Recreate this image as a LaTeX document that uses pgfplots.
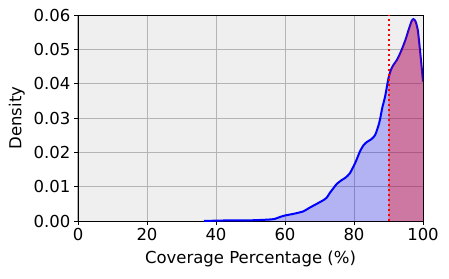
\documentclass[border=0pt]{standalone}
\usepackage{fontspec}
\setmainfont{DejaVu Sans}
\usepackage{pgfplots}
\usepackage{pgfplotstable}
\pgfplotsset{compat=1.18}
\definecolor{bgc}{RGB}{239,239,239}
\definecolor{gridc}{RGB}{180,180,180}
\pgfplotstableread{
x y
36.5 0
40 0.0001
45 0.0002
50 0.0002
55 0.0004
57 0.0006
58.6 0.0012
60 0.0016
61.5 0.0019
63 0.0022
65.3 0.0028
67 0.0038
69.2 0.005
71 0.006
72.1 0.0068
73 0.0082
74 0.0095
75 0.0108
76.4 0.0119
77.5 0.0126
78.8 0.0139
80.3 0.0168
81.7 0.0202
82.7 0.0220
83.7 0.0230
85 0.0238
86.1 0.0250
87 0.0275
87.5 0.0294
88.2 0.0330
89.0 0.0362
90 0.0416
90.7 0.0440
91.4 0.0454
92.5 0.0470
93.8 0.0498
95 0.0530
96 0.0562
96.7 0.0582
97.2 0.0588
97.8 0.0582
98.5 0.0555
99.3 0.0480
100 0.0406
}\kde
\pgfplotstableread{
x y
90 0.0416
90.7 0.0440
91.4 0.0454
92.5 0.0470
93.8 0.0498
95 0.0530
96 0.0562
96.7 0.0582
97.2 0.0588
97.8 0.0582
98.5 0.0555
99.3 0.0480
100 0.0406
}\kdehigh
\begin{document}
\begin{tikzpicture}
\useasboundingbox (-78pt,-57pt) rectangle (371pt,221pt);
\begin{axis}[
  at={(0,0)}, anchor=south west,
  scale only axis,
  width=345pt, height=206pt,
  xmin=0, xmax=100, ymin=0, ymax=0.06,
  xtick={0,20,...,100},
  ytick={0,0.01,...,0.06},
  yticklabel style={/pgf/number format/.cd, fixed, fixed zerofill, precision=2},
  scaled y ticks=false,
  /pgf/number format/assume math mode=true,
  tick label style={font=\fontsize{16.5}{19}\selectfont},
  label style={font=\fontsize{16.5}{19}\selectfont},
  xlabel={Coverage Percentage (\%)},
  ylabel={Density},
  xlabel style={yshift=-3pt},
  ylabel style={yshift=2pt},
  tick align=outside,
  tick pos=left,
  major tick length=4pt,
  tick style={black, line width=0.8pt},
  grid=major,
  major grid style={gridc, line width=1pt},
  axis background/.style={fill=bgc},
  axis line style={black, line width=0.8pt},
]
\addplot[draw=none, fill=blue, fill opacity=0.25, smooth, tension=0.4] table[x=x,y=y]{\kde} \closedcycle;
\addplot[blue, line width=2pt, smooth, tension=0.4] table[x=x,y=y]{\kde};
\addplot[draw=none, fill=red, fill opacity=0.33, smooth, tension=0.4] table[x=x,y=y]{\kdehigh} \closedcycle;
\addplot[red, line width=2pt, dash pattern=on 2pt off 3pt] coordinates {(90,0) (90,0.06)};
\end{axis}
\end{tikzpicture}
\end{document}
